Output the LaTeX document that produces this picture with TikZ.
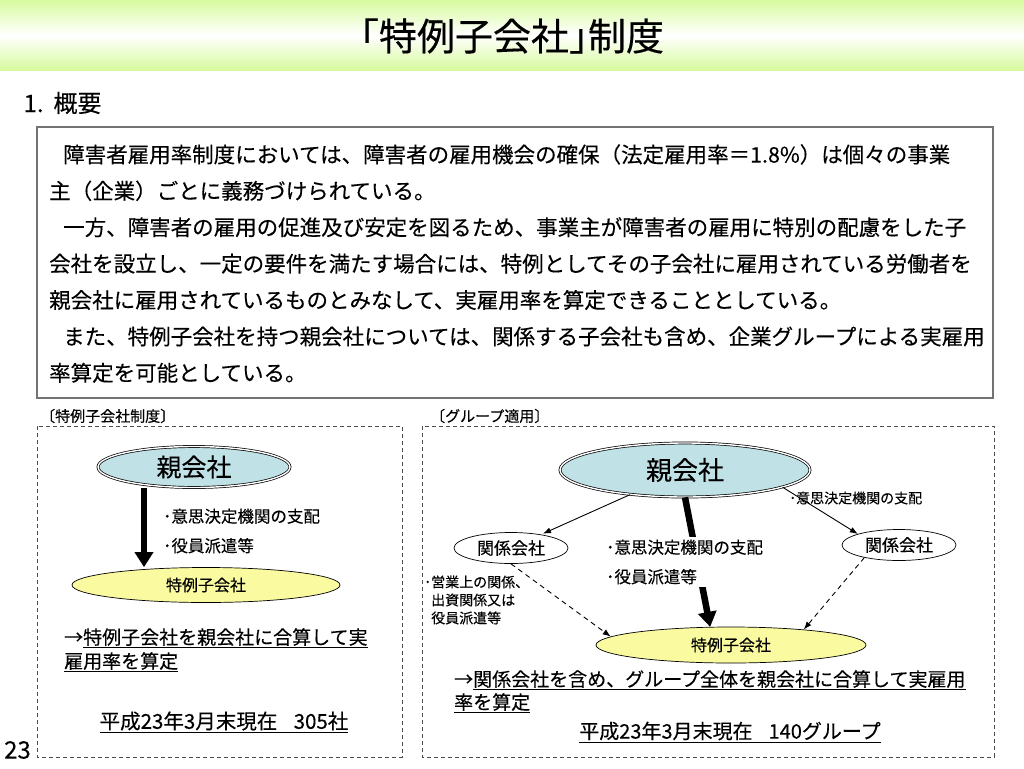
\documentclass[tikz,border=0pt]{standalone}
\usepackage{fontspec}
\setmainfont{Noto Sans CJK JP}[FakeBold=0.25]
\usetikzlibrary{positioning,shapes.geometric,arrows.meta}

\definecolor{bandgreen}{RGB}{216,250,158}
\definecolor{oyablue}{RGB}{192,225,229}
\definecolor{tokyellow}{RGB}{250,250,160}
\newcommand{\jfont}[2]{\fontsize{#1}{#2}\selectfont}

\tikzset{
  oya/.style={ellipse, draw, line width=0.7pt, double, double distance=1.4pt, fill=oyablue, inner sep=0pt, font=\jfont{25}{25}},
  tokurei/.style={ellipse, draw, line width=0.7pt, fill=tokyellow, inner sep=0pt, font=\jfont{16}{16}},
  kankei/.style={ellipse, draw, line width=0.7pt, fill=white, minimum width=114pt, minimum height=31pt, inner sep=0pt, font=\jfont{17}{17}},
  panel/.style={draw=black!70, dash pattern=on 4pt off 3pt, line width=0.9pt},
  bullets/.style={anchor=west, align=left, inner sep=0pt, font=\jfont{16.5}{29.5}},
  big arrow/.style={line width=6.5pt, -{Triangle[length=15pt,width=18pt]}},
  small arrow/.style={line width=0.9pt, -{Latex[length=8pt,width=6pt]}},
  dashed arrow/.style={small arrow, dash pattern=on 5pt off 4pt},
}

\begin{document}
\begin{tikzpicture}[x=1pt,y=-1pt]
  \useasboundingbox (0,0) rectangle (1024,768);
  \shade[top color=bandgreen, bottom color=bandgreen, middle color=white] (0,0) rectangle (1024,70);
  \node (title) at (512,36) {\jfont{38}{38}｢特例子会社｣制度};
  \node[anchor=west] (gaiyo) at (20,103) {\jfont{24}{24}1.\hspace{10pt}概要};

  \draw[black!55, line width=1.2pt] (37,127) rectangle (993,398);
  \node[anchor=north west, align=left, inner sep=0pt, font=\jfont{21.5}{36.4}] (gaiyotext) at (49,144) {%
\hspace*{14pt}障害者雇用率制度においては、障害者の雇用機会の確保（法定雇用率＝1.8\%）は個々の事業\\
主（企業）ごとに義務づけられている。\\
\hspace*{14pt}一方、障害者の雇用の促進及び安定を図るため、事業主が障害者の雇用に特別の配慮をした子\\
会社を設立し、一定の要件を満たす場合には、特例としてその子会社に雇用されている労働者を\\
親会社に雇用されているものとみなして、実雇用率を算定できることとしている。\\
\hspace*{14pt}また、特例子会社を持つ親会社については、関係する子会社も含め、企業グループによる実雇用\\
率算定を可能としている。};

  % left: tokurei kogaisha seido
  \node[anchor=west, inner sep=0pt, font=\jfont{15}{15}] (lbl1) at (40,416) {〔特例子会社制度〕};
  \draw[panel] (37,426) rectangle (402,757);
  \node[oya, minimum width=192pt, minimum height=41pt] (oya1) at (194,467) {親会社};
  \node[tokurei, minimum width=268pt, minimum height=35pt] (tok1) at (206,585) {特例子会社};
  \coordinate (a1) at (144,0);
  \draw[big arrow] (oya1.south -| a1) -- (tok1.north -| a1);
  \node[bullets] (ctl1) at (163,531) {･意思決定機関の支配\\･役員派遣等};
  \node[anchor=north west, align=left, inner sep=0pt, font=\jfont{19}{24}] (sum1) at (64,628) {→\underline{特例子会社を親会社に合算して実}\\\underline{雇用率を算定}};
  \node[font=\jfont{20.5}{20.5}] (date1) at (224,722) {\underline{平成23年3月末現在\hspace{0.8em}305社}};

  % right: group tekiyo
  \node[anchor=west, inner sep=0pt, font=\jfont{15}{15}] (lbl2) at (430,416) {〔グループ適用〕};
  \draw[panel] (422,426) rectangle (994,757);
  \node[oya, minimum width=250pt, minimum height=54pt, font=\jfont{26}{26}] (oya2) at (685,470) {親会社};
  \node[kankei] (kan1) at (511,548) {関係会社};
  \node[kankei] (kan2) at (899,545) {関係会社};
  \node[tokurei, minimum width=270pt, minimum height=36pt] (tok2) at (731,645) {特例子会社};

  \draw[small arrow, shorten >=2pt] (oya2) -- (kan1);
  \draw[small arrow] (oya2.-10) -- (kan2.165);
  \node[anchor=west, inner sep=0pt, font=\jfont{14}{14}] (ctl2) at (789,498) {･意思決定機関の支配};
  \draw[dashed arrow] (kan1.south) -- (tok2.176);
  \draw[dashed arrow] (kan2.200) -- (tok2.12);
  \draw[big arrow] (oya2.south) -- (tok2.139);
  \node[bullets, fill=white, inner sep=3pt] (ctl3) at (603,562) {･意思決定機関の支配\\･役員派遣等};
  \node[anchor=west, align=left, inner sep=0pt, font=\jfont{14}{18}] (eigyo) at (424,600) {･営業上の関係、\\\hspace*{7pt}出資関係又は\\\hspace*{7pt}役員派遣等};
  \node[anchor=north west, align=left, inner sep=0pt, font=\jfont{19}{23}] (sum2) at (454,670) {→\underline{関係会社を含め、グループ全体を親会社に合算して実雇用}\\\underline{率を算定}};
  \node[font=\jfont{20}{20}] (date2) at (730,732) {\underline{平成23年3月末現在\hspace{0.8em}140グループ}};

  \node[anchor=west, inner sep=0pt, font=\jfont{24}{24}] (page) at (4,750) {23};
\end{tikzpicture}
\end{document}
